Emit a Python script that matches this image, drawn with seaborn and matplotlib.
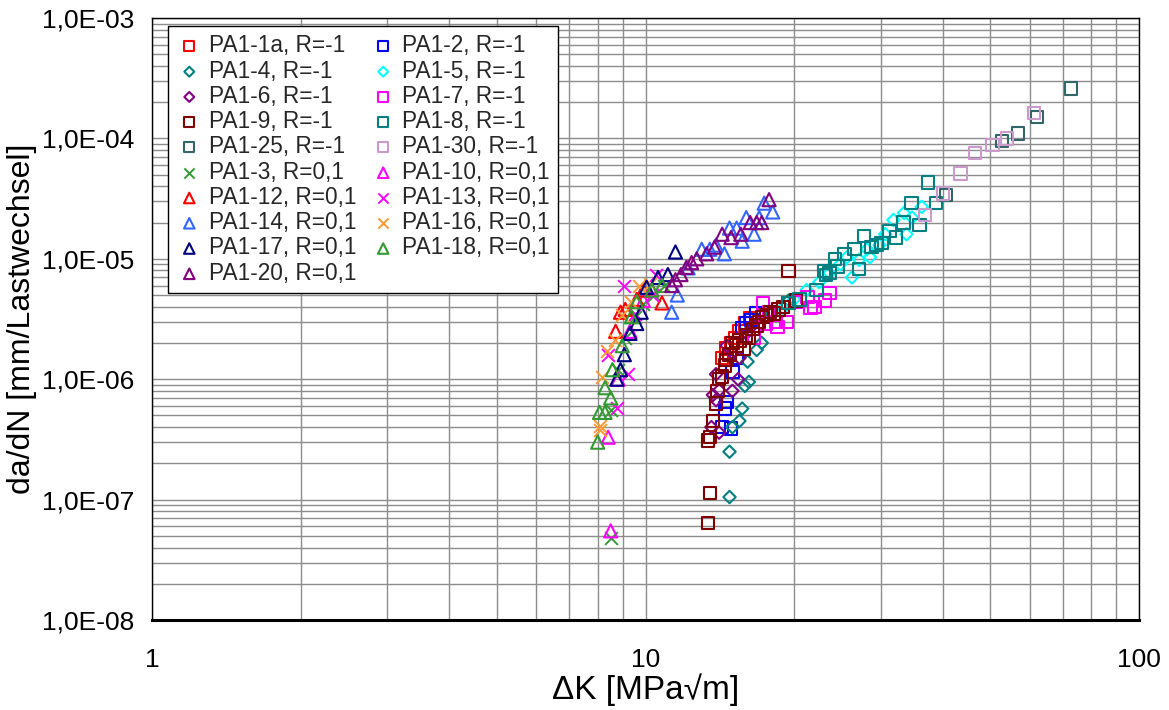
import numpy as np
import pandas as pd
import matplotlib
matplotlib.use("Agg")
import matplotlib.pyplot as plt
import seaborn as sns
from matplotlib.ticker import LogLocator, NullFormatter

# ---------------- data ----------------
# R = -1 series
x_pa1_1a = [14.3, 14.6, 14.9, 15.2, 15.5, 15.9, 16.3]
y_pa1_1a = [1.5e-6, 1.8e-6, 2.0e-6, 2.2e-6, 2.5e-6, 2.9e-6, 3.2e-6]

x_pa1_2 = [14.3, 14.5, 14.6, 14.9, 15.0, 15.3, 15.7, 16.0, 16.4, 16.8, 17.2]
y_pa1_2 = [4.0e-7, 5.7e-7, 6.5e-7, 3.9e-7, 1.15e-6, 1.5e-6, 2.65e-6, 2.9e-6, 3.1e-6, 3.5e-6, 3.3e-6]

x_pa1_4 = [14.8, 14.8, 15.0, 15.5, 15.7, 15.9, 16.2, 16.1, 16.8, 17.2, 18.0, 19.5]
y_pa1_4 = [1.05e-7, 2.5e-7, 4.0e-7, 4.5e-7, 5.7e-7, 8.8e-7, 9.5e-7, 1.4e-6, 1.75e-6, 2.0e-6, 3.5e-6, 4.5e-6]

x_pa1_5 = [19.0, 20.0, 21.2, 22.5, 23.6, 24.8, 25.6, 26.2, 27.1, 28.1, 28.5, 29.8,
           30.6, 31.8, 33.4, 33.8, 34.7, 36.3]
y_pa1_5 = [3.9e-6, 4.6e-6, 5.5e-6, 6.4e-6, 7.6e-6, 9.0e-6, 1.03e-5, 7.0e-6, 9.8e-6, 1.2e-5,
           1.03e-5, 1.3e-5, 1.6e-5, 2.1e-5, 2.4e-5, 1.6e-5, 2.2e-5, 2.7e-5]

x_pa1_6 = [13.6, 14.1, 13.7, 13.9, 14.1, 13.9, 14.6, 15.0, 15.0, 15.4, 15.5, 16.0, 16.5]
y_pa1_6 = [4.0e-7, 3.6e-7, 7.4e-7, 6.7e-7, 8.1e-7, 1.1e-6, 1.9e-6, 8.0e-7, 1.65e-6, 1.0e-6,
           1.5e-6, 2.4e-6, 2.8e-6]

x_pa1_7 = [16.6, 17.3, 17.5, 17.8, 18.4, 18.5, 19.3, 20.2, 21.3, 21.6, 22.0, 23.1, 23.6]
y_pa1_7 = [2.2e-6, 4.3e-6, 2.9e-6, 3.6e-6, 3.0e-6, 2.7e-6, 3.0e-6, 4.4e-6, 4.8e-6, 3.9e-6,
           4.0e-6, 4.5e-6, 5.2e-6]

x_pa1_9 = [13.4, 13.5, 13.4, 13.5, 13.7, 13.9, 14.0, 14.1, 14.3, 14.5, 14.6, 14.8, 15.0,
           15.3, 15.5, 15.8, 16.0, 16.2, 16.5, 16.8, 17.0, 17.3, 17.6, 17.9, 18.2, 18.6,
           19.0, 19.5, 20.2, 19.5]
y_pa1_9 = [6.4e-8, 1.13e-7, 3.1e-7, 3.3e-7, 4.5e-7, 6.3e-7, 8.0e-7, 1.0e-6, 1.05e-6, 1.3e-6,
           1.45e-6, 1.6e-6, 2.0e-6, 1.9e-6, 2.1e-6, 1.8e-6, 2.3e-6, 2.2e-6, 2.6e-6, 2.8e-6,
           3.0e-6, 3.3e-6, 3.4e-6, 3.6e-6, 3.5e-6, 3.8e-6, 4.0e-6, 4.3e-6, 4.5e-6, 7.9e-6]

x_pa1_8 = [19.5, 20.5, 22.2, 23.0, 23.2, 23.6, 24.2, 24.5, 25.3, 26.5, 27.1, 27.7, 28.7,
           29.4, 30.1, 31.2, 32.2, 33.3, 34.6, 35.9, 37.4, 38.8]
y_pa1_8 = [4.3e-6, 4.6e-6, 5.5e-6, 7.9e-6, 7.3e-6, 7.6e-6, 1.0e-5, 8.6e-6, 1.1e-5, 1.2e-5,
           8.2e-6, 1.55e-5, 1.25e-5, 1.3e-5, 1.35e-5, 1.7e-5, 1.5e-5, 2.0e-5, 2.9e-5, 1.9e-5,
           4.3e-5, 2.9e-5]

x_pa1_25 = [40.6, 52.7, 56.9, 62.2, 72.8]
y_pa1_25 = [3.4e-5, 9.5e-5, 1.1e-4, 1.5e-4, 2.6e-4]

x_pa1_30 = [36.8, 40.1, 43.5, 46.5, 50.5, 54.0, 61.3]
y_pa1_30 = [2.3e-5, 3.5e-5, 5.1e-5, 7.6e-5, 8.8e-5, 1.0e-4, 1.63e-4]

# R = 0,1 series
x_pa1_3 = [8.5, 8.5, 8.8, 9.1, 9.5, 9.9, 10.4, 10.9]
y_pa1_3 = [4.8e-8, 5.5e-7, 1.2e-6, 2.2e-6, 3.3e-6, 4.2e-6, 5.0e-6, 6.0e-6]

x_pa1_10 = [8.5, 8.4, 8.8, 9.3, 9.9, 10.3]
y_pa1_10 = [5.5e-8, 3.3e-7, 1.0e-6, 2.5e-6, 4.5e-6, 5.5e-6]

x_pa1_12 = [8.7, 8.9, 9.1, 9.6, 9.9, 10.8]
y_pa1_12 = [2.5e-6, 3.6e-6, 3.8e-6, 4.6e-6, 5.5e-6, 4.3e-6]

x_pa1_13 = [8.75, 8.38, 9.2, 9.06, 9.5, 10.3, 10.5]
y_pa1_13 = [5.8e-7, 1.6e-6, 1.1e-6, 5.9e-6, 3.5e-6, 5.0e-6, 7.4e-6]

x_pa1_14 = [11.3, 11.6, 12.2, 13.0, 13.5, 13.9, 14.45, 14.8, 15.3, 15.7, 16.0, 16.6, 17.0, 17.4, 18.1]
y_pa1_14 = [3.6e-6, 5.0e-6, 8.4e-6, 1.2e-5, 1.2e-5, 1.3e-5, 1.1e-5, 1.8e-5, 1.8e-5, 1.4e-5,
            2.2e-5, 1.6e-5, 2.2e-5, 2.9e-5, 2.45e-5]

x_pa1_16 = [8.07, 8.1, 8.18, 8.35, 8.67, 8.97, 9.36, 9.7, 10.2]
y_pa1_16 = [4.1e-7, 3.8e-7, 1.05e-6, 1.7e-6, 2.1e-6, 3.4e-6, 4.4e-6, 6.0e-6, 6.2e-6]

x_pa1_17 = [8.75, 8.9, 9.06, 9.3, 9.6, 9.8, 10.05, 10.6, 11.1, 11.5]
y_pa1_17 = [1.0e-6, 1.2e-6, 1.6e-6, 2.4e-6, 2.9e-6, 3.6e-6, 5.8e-6, 7.0e-6, 7.4e-6, 1.14e-5]

x_pa1_18 = [8.0, 8.07, 8.28, 8.5, 8.28, 8.57, 8.97, 9.36, 9.6, 10.3, 10.8]
y_pa1_18 = [3.0e-7, 5.3e-7, 5.3e-7, 7.0e-7, 8.5e-7, 1.2e-6, 1.9e-6, 3.3e-6, 4.4e-6, 5.5e-6, 6.0e-6]

x_pa1_20 = [11.3, 11.5, 11.8, 12.1, 12.4, 12.7, 13.3, 13.8, 14.3, 14.9, 15.6, 16.3, 16.8, 17.2, 17.8]
y_pa1_20 = [6.0e-6, 6.7e-6, 7.4e-6, 8.5e-6, 9.3e-6, 1.0e-5, 1.1e-5, 1.25e-5, 1.6e-5, 1.5e-5,
            1.6e-5, 2.0e-5, 2.0e-5, 2.0e-5, 3.1e-5]

labels = ["PA1-1a, R=-1", "PA1-2, R=-1", "PA1-4, R=-1", "PA1-5, R=-1", "PA1-6, R=-1",
          "PA1-7, R=-1", "PA1-9, R=-1", "PA1-8, R=-1", "PA1-25, R=-1", "PA1-30, R=-1",
          "PA1-3, R=0,1", "PA1-10, R=0,1", "PA1-12, R=0,1", "PA1-13, R=0,1",
          "PA1-14, R=0,1", "PA1-16, R=0,1", "PA1-17, R=0,1", "PA1-18, R=0,1", "PA1-20, R=0,1"]

y_tick_values = [1e-8, 1e-7, 1e-6, 1e-5, 1e-4, 1e-3]
y_tick_labels = ["1,0E-08", "1,0E-07", "1,0E-06", "1,0E-05", "1,0E-04", "1,0E-03"]
x_tick_values = [1, 10, 100]
x_tick_labels = ["1", "10", "100"]

# ---------------- style ----------------
xs_all = [x_pa1_1a, x_pa1_2, x_pa1_4, x_pa1_5, x_pa1_6, x_pa1_7, x_pa1_9, x_pa1_8, x_pa1_25,
          x_pa1_30, x_pa1_3, x_pa1_10, x_pa1_12, x_pa1_13, x_pa1_14, x_pa1_16, x_pa1_17,
          x_pa1_18, x_pa1_20]
ys_all = [y_pa1_1a, y_pa1_2, y_pa1_4, y_pa1_5, y_pa1_6, y_pa1_7, y_pa1_9, y_pa1_8, y_pa1_25,
          y_pa1_30, y_pa1_3, y_pa1_10, y_pa1_12, y_pa1_13, y_pa1_14, y_pa1_16, y_pa1_17,
          y_pa1_18, y_pa1_20]
markers = ["s", "s", "D", "D", "D", "s", "s", "s", "s", "s",
           "x", "^", "^", "x", "^", "x", "^", "^", "^"]
colors = ["#FF0000", "#0000FF", "#008080", "#00FFFF", "#800080", "#FF00FF", "#800000",
          "#008080", "#336666", "#CC99CC",
          "#339933", "#FF00FF", "#FF0000", "#FF00FF", "#3366FF", "#FF9933", "#000080",
          "#339933", "#800080"]
sizes = {"s": 80, "D": 40, "^": 90, "x": 85}

rows = []
for lab, xs, ys in zip(labels, xs_all, ys_all):
    for xv, yv in zip(xs, ys):
        rows.append((lab, xv, yv))
df = pd.DataFrame(rows, columns=["series", "dK", "dadN"])

sns.set_theme(style="white")
plt.rcParams['font.family'] = ['Liberation Sans', 'DejaVu Sans']

fig = plt.figure(figsize=(11.69, 7.10), dpi=100)
ax = fig.add_axes([152 / 1169, 1 - 620 / 710, (1139 - 152) / 1169, (620 - 18) / 710])

for lab, mk, col in zip(labels, markers, colors):
    sub = df[df["series"] == lab]
    if mk == "x":
        sns.scatterplot(data=sub, x="dK", y="dadN", marker=mk, s=sizes[mk], color=col,
                        linewidth=1.4, ax=ax, label=lab, zorder=3)
    else:
        sns.scatterplot(data=sub, x="dK", y="dadN", marker=mk, s=sizes[mk],
                        facecolors="none", edgecolor=col, linewidth=1.5, ax=ax,
                        label=lab, zorder=3)

ax.set_xscale("log")
ax.set_yscale("log")
ax.set_xlim(1, 100)
ax.set_ylim(1e-8, 1e-3)
ax.set_xticks(x_tick_values)
ax.set_xticklabels(x_tick_labels)
ax.set_yticks(y_tick_values)
ax.set_yticklabels(y_tick_labels)
ax.xaxis.set_minor_locator(LogLocator(base=10, subs=np.arange(2, 10)))
ax.yaxis.set_minor_locator(LogLocator(base=10, subs=np.arange(2, 10)))
ax.xaxis.set_minor_formatter(NullFormatter())
ax.yaxis.set_minor_formatter(NullFormatter())
ax.grid(which="both", color="#8c8c8c", linewidth=1.0, zorder=0)
ax.set_axisbelow(True)
ax.tick_params(which="major", direction="out", length=7, width=1, color="#666666",
               labelsize=19, labelcolor="black", pad=6)
ax.tick_params(which="minor", length=0)
ax.tick_params(axis="x", pad=13)

for side in ["left", "top", "right"]:
    ax.spines[side].set_color("black")
    ax.spines[side].set_linewidth(1.0)
ax.spines["bottom"].set_color("black")
ax.spines["bottom"].set_linewidth(2.2)

ax.set_xlabel("\u0394K [MPa\u221am]", fontsize=24, labelpad=1, color="black")
ax.set_ylabel("da/dN [mm/Lastwechsel]", fontsize=23, labelpad=3, color="black")

handles, labs = ax.get_legend_handles_labels()
hmap = dict(zip(labs, handles))
col1 = [labels[i] for i in range(0, 19, 2)]
col2 = [labels[i] for i in range(1, 19, 2)]
order = col1 + col2
leg = ax.legend([hmap[l] for l in order], order, ncol=2, loc="upper left",
                bbox_to_anchor=(0.016, 0.986), fontsize=16.3, frameon=True, fancybox=False,
                edgecolor="black", framealpha=1, labelspacing=0.1, handletextpad=0.25,
                columnspacing=0.6, borderpad=0.35, handlelength=1.2, markerscale=0.8,
                borderaxespad=0)
leg.get_frame().set_linewidth(1.0)

fig.savefig("out.png", dpi=100)
